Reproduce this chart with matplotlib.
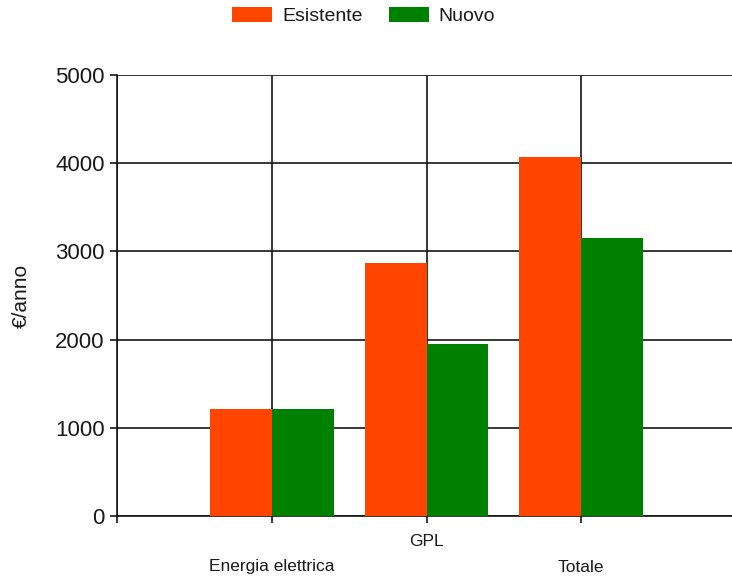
import matplotlib

matplotlib.use("Agg")
import matplotlib.pyplot as plt
import numpy as np

plt.rcParams["font.family"] = ["Liberation Sans", "DejaVu Sans"]

# %% data
categories = ["Energia elettrica", "GPL", "Totale"]
esistente = [1212, 2872, 4072]
nuovo = [1212, 1951, 3151]
yticks = [0, 1000, 2000, 3000, 4000, 5000]

c_esist = "#FF4500"
c_nuovo = "#008000"
txt = "#1a1a1a"
line_c = "#151515"

# %% figure
W, H = 732, 577
fig = plt.figure(figsize=(W / 100, H / 100), dpi=100)
ax = fig.add_axes([117 / W, (H - 516) / H, (736 - 117) / W, (516 - 75) / H])

x = np.arange(len(categories))
width = 0.4
ax.bar(x - width / 2, esistente, width, color=c_esist, label="Esistente", zorder=3)
ax.bar(x + width / 2, nuovo, width, color=c_nuovo, label="Nuovo", zorder=3)

ax.set_xlim(-1, 3)
ax.set_ylim(0, 5000)
ax.set_yticks(yticks)
ax.set_xticks([-1, 0, 1, 2])
ax.set_xticklabels([])
ax.tick_params(axis="both", direction="out", length=5, width=1.2, color=line_c)
ax.tick_params(axis="y", labelsize=16, labelcolor=txt, pad=4)

ax.grid(True, color=line_c, linewidth=1.2, zorder=0)
ax.set_axisbelow(True)
for side in ["top", "right"]:
    ax.spines[side].set_visible(False)
for side in ["left", "bottom"]:
    ax.spines[side].set_color(line_c)
    ax.spines[side].set_linewidth(1.2)

# staggered category labels
offsets_px = [51, 25, 51]
for xi, lab, off in zip(x, categories, offsets_px):
    ax.annotate(lab, xy=(xi, 0), xycoords=("data", "axes fraction"),
                xytext=(0, -off * 0.72), textcoords="offset points",
                ha="center", va="center", fontsize=12.5, color=txt)

fig.text(21 / W, 1 - 296 / H, "€/anno", rotation=90, ha="center", va="center",
         fontsize=15, color=txt)

fig.legend(loc="center", bbox_to_anchor=(363.5 / W, 1 - 16 / H), ncol=2,
           frameon=False, fontsize=14, handlelength=2.06, handleheight=0.82,
           handletextpad=0.5, columnspacing=1.34, labelcolor=txt)

fig.savefig("out.png", dpi=100)
